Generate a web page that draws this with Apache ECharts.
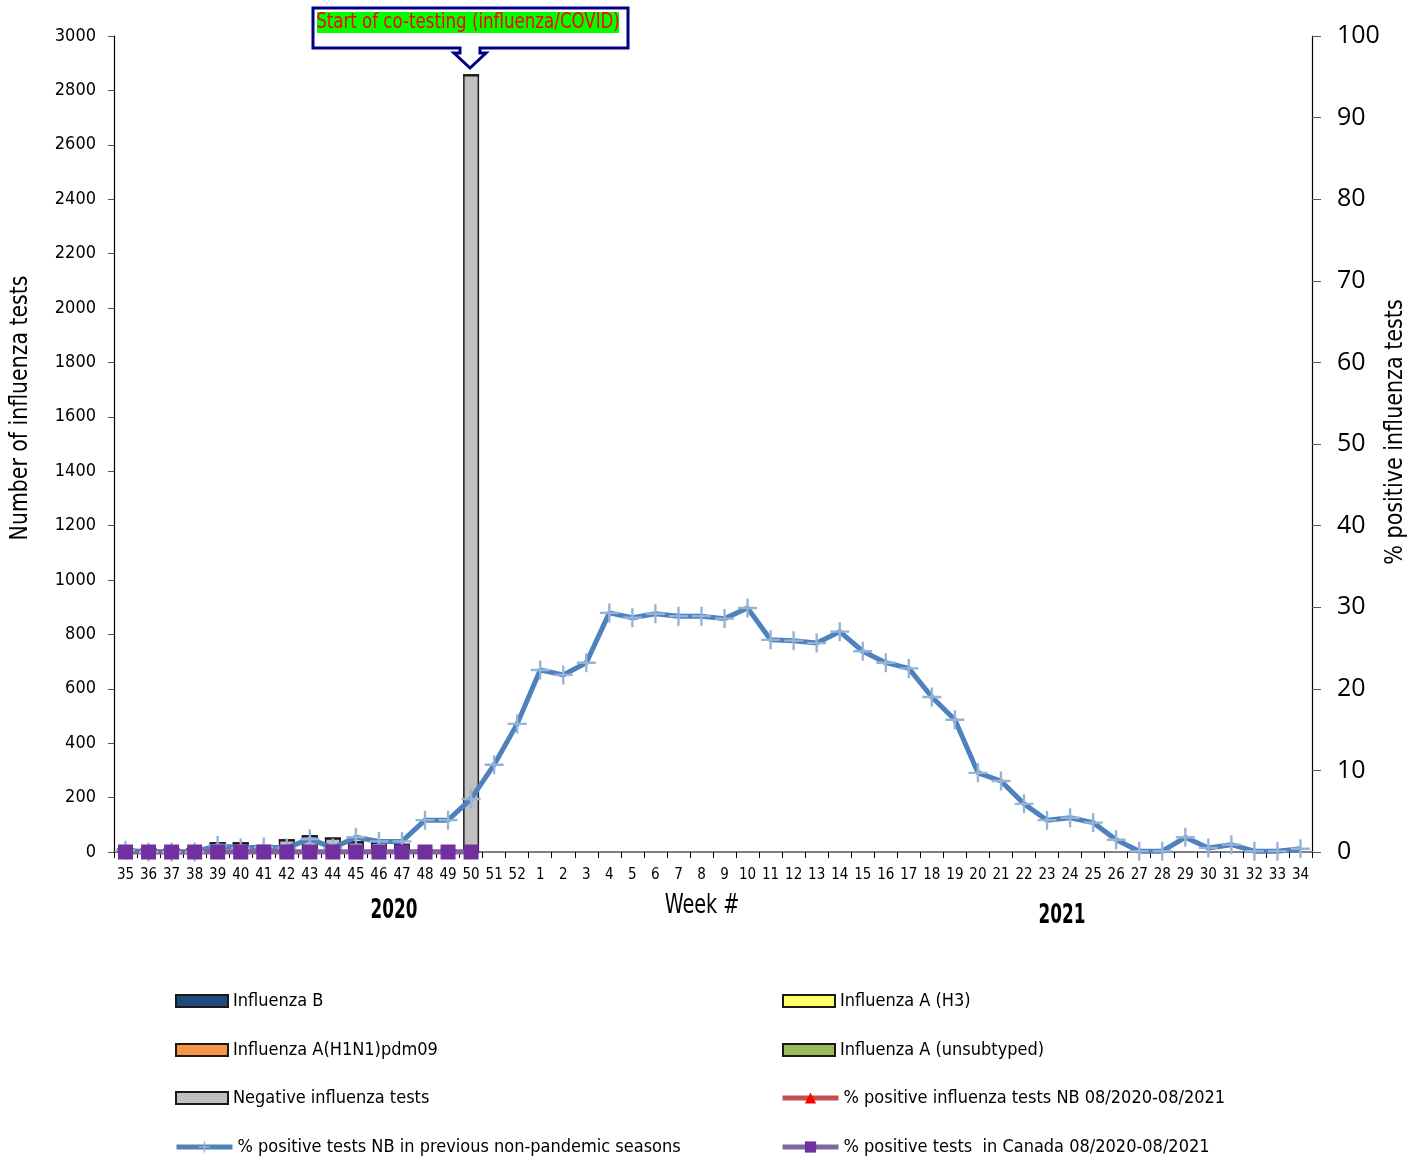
<!DOCTYPE html>
<html>
<head>
<meta charset="utf-8">
<script src="https://cdn.jsdelivr.net/npm/echarts@6/dist/echarts.min.js"></script>
<style>html,body{margin:0;padding:0;background:#fff;}#c{width:1423px;height:1161px;}</style>
</head>
<body>
<div id="c"></div>
<script>
const weeks = ['35','36','37','38','39','40','41','42','43','44','45','46','47','48','49','50','51','52',
  '1','2','3','4','5','6','7','8','9','10','11','12','13','14','15','16','17','18','19','20','21','22','23','24','25','26','27','28','29','30','31','32','33','34'];
const fluB      = [0,0,0,0,0,0,0,0,0,0,0,0,0,0,0,0];
const fluH1N1   = [0,0,0,0,0,0,0,0,0,0,0,0,0,0,0,0];
const negative  = [12,10,10,12,33,33,15,44,59,51,37,35,28,8,8,2857];
const fluH3     = [0,0,0,0,0,0,0,0,0,0,0,0,0,0,0,0];
const fluAuns   = [0,0,0,0,0,0,0,0,0,0,0,0,0,0,0,0];
const pctNB     = [0,0,0,0,0,0,0,0,0,0,0,0,0,0,0,0];
const pctCanada = [0,0,0,0,0,0,0,0,0,0,0,0,0,0,0,0];
const pctPrev   = [0.2,0,0,0,0.8,0.5,0.6,0.5,1.6,0.5,1.8,1.3,1.3,3.9,3.9,6.5,10.7,15.7,
  22.3,21.7,23.2,29.3,28.7,29.2,28.9,28.9,28.6,29.9,26.0,25.9,25.6,27.0,24.6,23.2,22.5,19.0,16.2,9.7,
  8.7,5.9,3.9,4.2,3.6,1.5,0.1,0.1,1.8,0.5,0.9,0.1,0.1,0.4];
const leftTicks = {min:0, max:3000, interval:200};
const rightTicks = {min:0, max:100, interval:10};

const NARROW = "'Liberation Sans Narrow','Arial Narrow','DejaVu Sans Condensed',sans-serif";
const PLUS = 'path://M7,0H9V7H16V9H9V16H7V9H0V7H7Z';

const N_B = 'Influenza B', N_H1 = 'Influenza A(H1N1)pdm09', N_NEG = 'Negative influenza tests',
  N_PREV = '% positive tests NB in previous non-pandemic seasons', N_H3 = 'Influenza A (H3)',
  N_UNS = 'Influenza A (unsubtyped)', N_NB = '% positive influenza tests NB 08/2020-08/2021',
  N_CA = '% positive tests  in Canada 08/2020-08/2021';

const chart = echarts.init(document.getElementById('c'));
function barSeries(name, data, color) {
  return {name, type:'bar', stack:'tests', data, barWidth:16, yAxisIndex:0,
    itemStyle:{color, borderColor:'#1a1a1a', borderWidth:1.5}};
}
const legendText = {fontFamily:NARROW, fontSize:18, color:'#000'};
function lg(name, left, cy, isBar) {
  return {left, top:cy - 9, padding:0, itemWidth: isBar ? 52 : 56, itemHeight: isBar ? 12 : 14, itemGap:0,
    textStyle:legendText, selectedMode:false, lineStyle: isBar ? undefined : {width:5},
    data:[isBar ? {name, icon:'rect'} : {name}]};
}
chart.setOption({
  animation:false,
  backgroundColor:'#fff',
  grid:{left:114, right:111, top:36, bottom:309, containLabel:false},
  legend:[
    lg(N_B, 175, 1001, true), lg(N_H1, 175, 1050, true), lg(N_NEG, 175, 1098, true), lg(N_PREV, 174, 1147, false),
    lg(N_H3, 782, 1001, true), lg(N_UNS, 782, 1050, true), lg(N_NB, 780, 1098, false), lg(N_CA, 780, 1147, false)
  ],
  xAxis:{type:'category', data:weeks, boundaryGap:true,
    axisLine:{lineStyle:{color:'#808080', width:2}},
    axisTick:{show:true, length:6, lineStyle:{color:'#000'}, interval:0},
    axisLabel:{interval:0, fontFamily:NARROW, fontSize:15, color:'#000', margin:16}},
  yAxis:[
    {type:'value', position:'left', min:leftTicks.min, max:leftTicks.max, interval:leftTicks.interval,
      splitLine:{show:false},
      axisLine:{show:true, lineStyle:{color:'#000', width:1.2}},
      axisTick:{show:true, length:6, lineStyle:{color:'#555'}},
      axisLabel:{fontFamily:NARROW, fontSize:18, color:'#000', margin:18, formatter:v => String(v)}},
    {type:'value', position:'right', min:rightTicks.min, max:rightTicks.max, interval:rightTicks.interval,
      splitLine:{show:false},
      axisLine:{show:true, lineStyle:{color:'#000', width:1.2}},
      axisTick:{show:true, length:9, lineStyle:{color:'#555'}},
      axisLabel:{color:'#000', margin:25, formatter: v => '{a|' + v + '}',
        rich:{a:{fontFamily:"'Open Sans','Noto Sans',sans-serif", fontSize:25, color:'#000', width:44, align:'left'}}}}
  ],
  series:[
    barSeries(N_B, fluB, '#1F497D'),
    barSeries(N_H1, fluH1N1, '#F79646'),
    barSeries(N_NEG, negative, '#C0C0C0'),
    barSeries(N_H3, fluH3, '#FFFF66'),
    barSeries(N_UNS, fluAuns, '#9BBB59'),
    {name:N_PREV, type:'line', yAxisIndex:1, data:pctPrev,
      lineStyle:{color:'#4F81BD', width:5}, itemStyle:{color:'#95B3D7'},
      symbol:PLUS, symbolSize:19, showAllSymbol:true},
    {name:N_NB, type:'line', yAxisIndex:1, data:pctNB,
      lineStyle:{color:'#C0504D', width:5}, itemStyle:{color:'#FF0000'},
      symbol:'triangle', symbolSize:13, showAllSymbol:true},
    {name:N_CA, type:'line', yAxisIndex:1, data:pctCanada,
      lineStyle:{color:'#8064A2', width:5}, itemStyle:{color:'#7030A0'},
      symbol:'rect', symbolSize:15, showAllSymbol:true}
  ],
  graphic:[
    {type:'polygon', shape:{points:[[313,8],[628,8],[628,48],[480,48],[480,53],[486,53],[470,68],[454,53],[460,53],[460,48],[313,48]]},
      style:{fill:'#fff', stroke:'#000080', lineWidth:3}, z:100},
    {type:'rect', shape:{x:317, y:12, width:302, height:21}, style:{fill:'#00FF00'}, z:101},
    {type:'text', x:468, y:22.5, scaleX:0.84, z:102, style:{text:'Start of co-testing (influenza/COVID)', fill:'#FF0000',
      font:"22px "+NARROW, align:'center', verticalAlign:'middle'}},
    {type:'text', x:394, y:911, scaleX:0.72, style:{text:'2020', fill:'#000', font:"bold 26px "+NARROW, align:'center', verticalAlign:'middle'}},
    {type:'text', x:1062, y:916, scaleX:0.72, style:{text:'2021', fill:'#000', font:"bold 26px "+NARROW, align:'center', verticalAlign:'middle'}},
    {type:'text', x:702, y:906, scaleX:0.82, style:{text:'Week #', fill:'#000', font:"26px "+NARROW, align:'center', verticalAlign:'middle'}},
    {type:'text', x:20, y:408, rotation:Math.PI/2, scaleX:0.91, style:{text:'Number of influenza tests', fill:'#000', font:"25px "+NARROW, align:'center', verticalAlign:'middle'}},
    {type:'text', x:1395, y:432, rotation:Math.PI/2, scaleX:0.92, style:{text:'% positive influenza tests', fill:'#000', font:"25px "+NARROW, align:'center', verticalAlign:'middle'}}
  ]
});
</script>
</body>
</html>
